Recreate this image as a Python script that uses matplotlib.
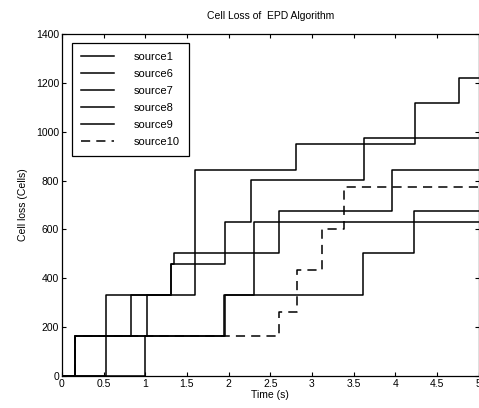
import matplotlib
matplotlib.use('Agg')
import matplotlib.pyplot as plt

plt.rcParams['font.family'] = ['Liberation Sans', 'DejaVu Sans']

# step times (s) and cumulative cell loss for each source
t_source1 = [0, 0.156, 0.527, 1.31, 1.96, 2.27, 3.63, 5]
y_source1 = [0, 164, 330, 457, 630, 802, 973, 973]

t_source6 = [0, 0.156, 0.826, 1.31, 1.345, 2.60, 3.96, 5]
y_source6 = [0, 164, 330, 457, 502, 677, 843, 843]

t_source7 = [0, 0.156, 1.02, 1.593, 2.81, 4.24, 4.77, 5]
y_source7 = [0, 164, 330, 843, 950, 1116, 1218, 1218]

t_source8 = [0, 0.527, 1.94, 2.31, 5]
y_source8 = [0, 164, 330, 630, 630]

t_source9 = [0, 0.994, 1.955, 3.61, 4.23, 5]
y_source9 = [0, 164, 330, 502, 675, 675]

t_source10 = [0, 0.156, 2.60, 2.82, 3.12, 3.38, 5]
y_source10 = [0, 164, 263, 434, 600, 775, 775]

fig = plt.figure(figsize=(4.79, 4.08), dpi=100)
ax = fig.add_axes([62 / 479, 32 / 408, 416.5 / 479, 342 / 408])

lw = 1.1
ax.step(t_source1, y_source1, where='post', color='black', lw=lw, label='source1')
ax.step(t_source6, y_source6, where='post', color='black', lw=lw, label='source6')
ax.step(t_source7, y_source7, where='post', color='black', lw=lw, label='source7')
ax.step(t_source8, y_source8, where='post', color='black', lw=lw, label='source8')
ax.step(t_source9, y_source9, where='post', color='black', lw=lw, label='source9')
ax.step(t_source10, y_source10, where='post', color='black', lw=lw,
        dashes=(6, 4), label='source10')

ax.set_xlim(0, 5)
ax.set_ylim(0, 1400)
ax.set_xticks([0, 0.5, 1, 1.5, 2, 2.5, 3, 3.5, 4, 4.5, 5])
ax.set_xticklabels(['0', '0.5', '1', '1.5', '2', '2.5', '3', '3.5', '4', '4.5', '5'])
ax.set_yticks(range(0, 1401, 200))
ax.tick_params(direction='in', top=True, right=True, length=3, width=0.8,
               labelsize=7.5, pad=2)
for s in ax.spines.values():
    s.set_linewidth(0.9)

ax.set_title('Cell Loss of  EPD Algorithm', fontsize=7.5, pad=11)
ax.set_xlabel('Time (s)', fontsize=7.5, labelpad=1)
ax.set_ylabel('Cell loss (Cells)', fontsize=7.5, labelpad=6)

leg = ax.legend(loc='upper left', bbox_to_anchor=(0.024, 0.974), borderaxespad=0,
                fontsize=8, handlelength=2.9, handletextpad=1.8, labelspacing=0.62,
                borderpad=0.85, fancybox=False, framealpha=1, edgecolor='black')
leg.get_frame().set_linewidth(0.9)

fig.savefig('out.png', dpi=100)
